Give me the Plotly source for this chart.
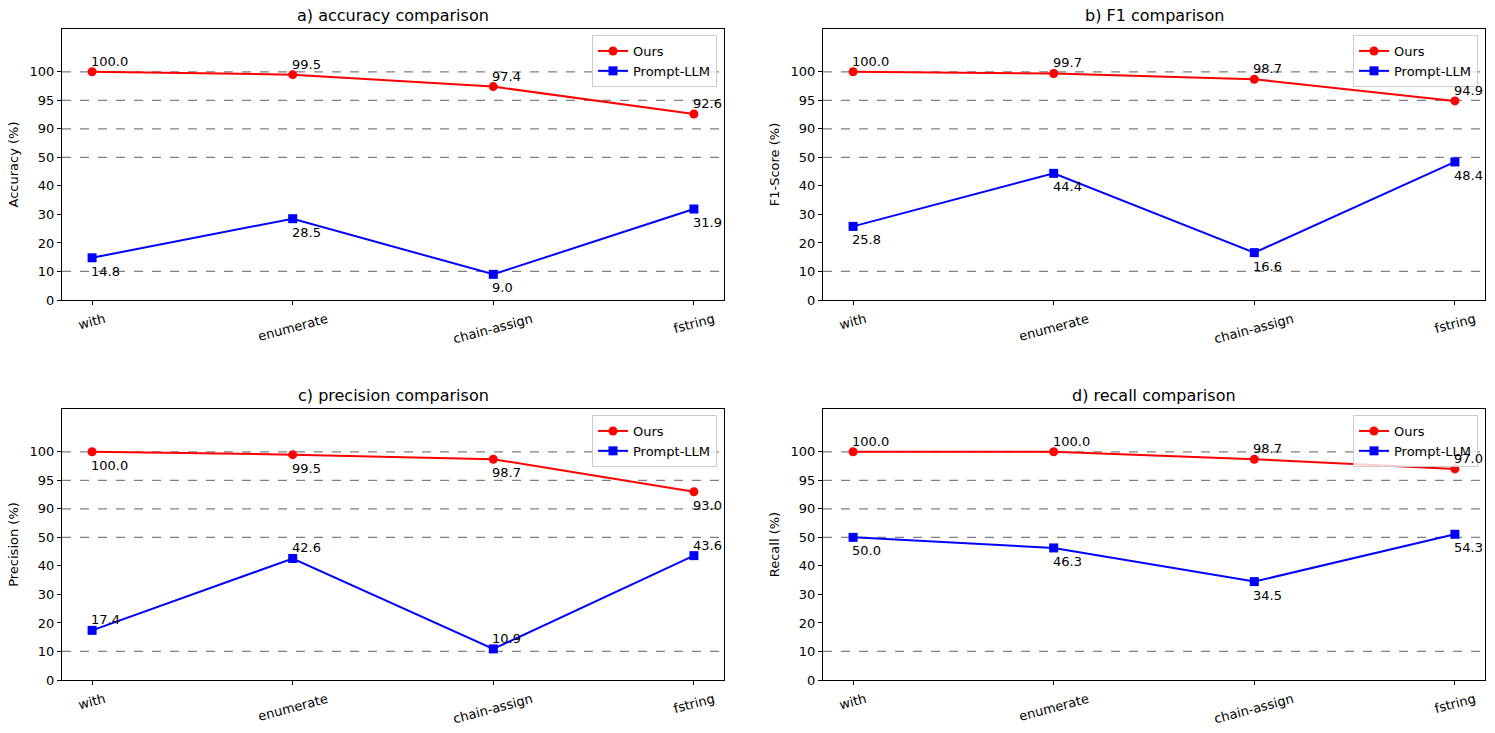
import plotly.graph_objects as go

categories = ["with", "enumerate", "chain-assign", "fstring"]

acc_ours = [100.0, 99.5, 97.4, 92.6]
acc_llm = [14.8, 28.5, 9.0, 31.9]
f1_ours = [100.0, 99.7, 98.7, 94.9]
f1_llm = [25.8, 44.4, 16.6, 48.4]
prec_ours = [100.0, 99.5, 98.7, 93.0]
prec_llm = [17.4, 42.6, 10.9, 43.6]
rec_ours = [100.0, 100.0, 98.7, 97.0]
rec_llm = [50.0, 46.3, 34.5, 54.3]

tick_values = [0, 10, 20, 30, 40, 50, 90, 95, 100]
grid_values = [10, 50, 90, 95, 100]

titles = ["a) accuracy comparison", "b) F1 comparison", "c) precision comparison", "d) recall comparison"]
ylabels = ["Accuracy (%)", "F1-Score (%)", "Precision (%)", "Recall (%)"]
# label placement for (ours, llm): 1 = above, -1 = below
placements = [(1, -1), (1, -1), (-1, 1), (1, -1)]


def scale(v):
    """Piecewise (broken) y scale: 0-50 linear, 50-90 compressed, 90-100 expanded."""
    if v <= 50:
        return v / 10.0
    if v <= 90:
        return 5 + (v - 50) / 40.0
    return 6 + (v - 90) / 5.0


W, H = 1495, 733
xdoms = [(62 / W, 724 / W), (823 / W, 1485 / W)]
ydoms = [(1 - 300 / H, 1 - 29 / H), (1 - 680 / H, 1 - 409 / H)]

panels = [
    (acc_ours, acc_llm),
    (f1_ours, f1_llm),
    (prec_ours, prec_llm),
    (rec_ours, rec_llm),
]

FONT = "DejaVu Sans"
fig = go.Figure()
annotations = []
shapes = []
layout = {}

for i, (ours, llm) in enumerate(panels):
    n = i + 1
    xa = "x" if n == 1 else f"x{n}"
    ya = "y" if n == 1 else f"y{n}"
    lg = "legend" if n == 1 else f"legend{n}"
    row, col = i // 2, i % 2
    xd, yd = xdoms[col], ydoms[row]

    fig.add_trace(go.Scatter(
        x=categories, y=[scale(v) for v in ours], mode="lines+markers", name="Ours",
        line=dict(color="red", width=2), marker=dict(symbol="circle", size=9, color="red"),
        xaxis=xa, yaxis=ya, legend=lg, hoverinfo="skip", cliponaxis=False))
    fig.add_trace(go.Scatter(
        x=categories, y=[scale(v) for v in llm], mode="lines+markers", name="Prompt-LLM",
        line=dict(color="blue", width=2), marker=dict(symbol="square", size=9, color="blue"),
        xaxis=xa, yaxis=ya, legend=lg, hoverinfo="skip", cliponaxis=False))

    layout["xaxis" if n == 1 else f"xaxis{n}"] = dict(
        domain=list(xd), anchor=ya, type="category", range=[-0.15, 3.15], automargin=False,
        showgrid=False, zeroline=False, showline=True, mirror=True, linecolor="black", linewidth=1,
        ticks="outside", ticklen=4, tickcolor="black", showticklabels=False)
    layout["yaxis" if n == 1 else f"yaxis{n}"] = dict(
        domain=list(yd), anchor=xa, range=[0, 9.5], automargin=False,
        tickvals=[scale(v) for v in tick_values], ticktext=[str(v) for v in tick_values],
        showgrid=False, zeroline=False, showline=True, mirror=True, linecolor="black", linewidth=1,
        ticks="outside", ticklen=4, tickcolor="black",
        tickfont=dict(family=FONT, size=13, color="black"),
        title=dict(text=ylabels[i], font=dict(family=FONT, size=13, color="black"), standoff=8))
    layout[lg] = dict(
        x=xd[1] - 7 / W, y=yd[1] - 6 / H, xanchor="right", yanchor="top",
        bgcolor="rgba(255,255,255,0.8)", bordercolor="#cccccc", borderwidth=1,
        font=dict(family=FONT, size=13, color="black"), tracegroupgap=0, itemwidth=30)

    for g in grid_values:
        shapes.append(dict(type="line", xref=f"{xa} domain", yref=ya, x0=0, x1=1,
                           y0=scale(g), y1=scale(g), layer="below",
                           line=dict(color="gray", width=1.2, dash="dash")))

    # rotated category labels, centred under each tick (matplotlib style)
    for c in categories:
        annotations.append(dict(text=c, x=c, y=0, xref=xa, yref=ya, showarrow=False,
                                textangle=-15, xanchor="center", yanchor="top", yshift=-8,
                                font=dict(family=FONT, size=13, color="black")))

    annotations.append(dict(text=titles[i], xref="paper", yref="paper",
                            x=(xd[0] + xd[1]) / 2, y=yd[1], xanchor="center", yanchor="bottom",
                            yshift=2, showarrow=False, font=dict(family=FONT, size=16, color="black")))

    for series, pos in ((ours, placements[i][0]), (llm, placements[i][1])):
        for c, v in zip(categories, series):
            annotations.append(dict(
                text=f"{v:.1f}", x=c, y=scale(v), xref=xa, yref=ya, showarrow=False,
                xanchor="left", yanchor="bottom" if pos > 0 else "top",
                yshift=1 if pos > 0 else -4, xshift=-3,
                font=dict(family=FONT, size=13, color="black")))

fig.update_layout(**layout)
fig.update_layout(width=W, height=H, margin=dict(l=0, r=0, t=0, b=0, autoexpand=False),
                  paper_bgcolor="white", plot_bgcolor="white",
                  annotations=annotations, shapes=shapes, showlegend=True)

fig.write_html("out.html", config={"displayModeBar": False},
               post_script="document.body.style.margin='0';")
